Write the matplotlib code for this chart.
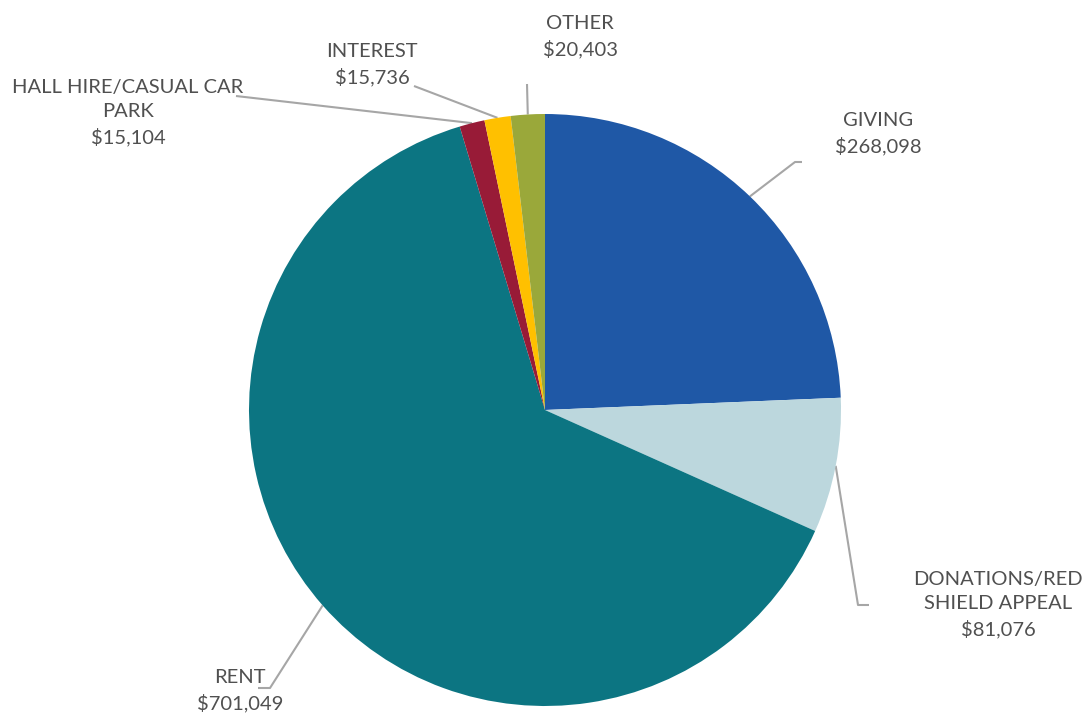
import numpy as np
import matplotlib
matplotlib.use("Agg")
import matplotlib.pyplot as plt

# DATA
categorias = ["GIVING", "DONATIONS/RED\nSHIELD APPEAL", "RENT",
              "HALL HIRE/CASUAL CAR\nPARK", "INTEREST", "OTHER"]
valores = [268098, 81076, 701049, 15104, 15736, 20403]
colores = ["#1F58A6", "#BCD7DD", "#0C7582", "#981B37", "#FFC000", "#9AA83A"]

# posicion de las etiquetas (pixeles, y desde arriba) y codo de la linea guia
pos_etiqueta = [(878, 134), (998, 605), (240, 691), (128, 113), (372, 65), (580, 37)]
codo = [(795, 162), (858, 605), (270, 688), (236, 96), (414, 86), (527, 84)]
fin_codo = [(802, 162), (869, 605), (258, 688), None, None, None]

W, H = 1083, 716
fig = plt.figure(figsize=(W / 100, H / 100), dpi=100)
ax = fig.add_axes([0, 0, 1, 1])

cx, cy, r = 545, H - 410, 296
wedges, _ = ax.pie(valores, colors=colores, startangle=90, counterclock=False,
                   center=(cx, cy), radius=r, frame=True)
ax.set_xlim(0, W)
ax.set_ylim(0, H)
ax.set_aspect("equal")
ax.axis("off")

gris = "#A6A6A6"
texto = "#505050"
for w, lab, val, pe, cd, fc in zip(wedges, categorias, valores, pos_etiqueta, codo, fin_codo):
    ang = np.deg2rad((w.theta1 + w.theta2) / 2)
    x0 = cx + r * np.cos(ang)
    y0 = cy + r * np.sin(ang)
    xs = [x0, cd[0]]
    ys = [y0, H - cd[1]]
    if fc is not None:
        xs.append(fc[0])
        ys.append(H - fc[1])
    ax.plot(xs, ys, color=gris, lw=1.5, solid_capstyle="butt", zorder=0)
    ax.text(pe[0], H - pe[1], f"{lab}\n${val:,}", ha="center", va="center",
            fontsize=14.5, family="Lato", color=texto, linespacing=1.5)

fig.savefig("out.png", dpi=100, facecolor="white")
